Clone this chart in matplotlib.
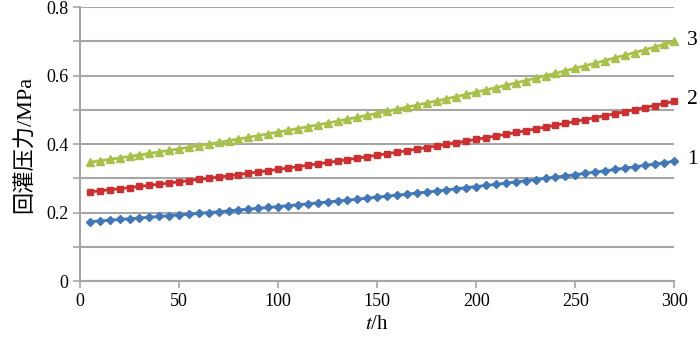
import numpy as np
import matplotlib.pyplot as plt

plt.rcParams['font.family'] = ['Liberation Serif', 'Noto Sans CJK SC']
plt.rcParams['mathtext.fontset'] = 'stix'

# time steps (h)
t = np.arange(5, 301, 5)

# recharge pressure (MPa)
p1 = [0.1735, 0.1756, 0.1777, 0.1798, 0.1820, 0.1841, 0.1863, 0.1886, 0.1908, 0.1931,
      0.1954, 0.1978, 0.2001, 0.2025, 0.2049, 0.2074, 0.2099, 0.2124, 0.2149, 0.2175,
      0.2201, 0.2227, 0.2254, 0.2281, 0.2308, 0.2336, 0.2364, 0.2392, 0.2420, 0.2449,
      0.2479, 0.2508, 0.2538, 0.2569, 0.2599, 0.2630, 0.2662, 0.2694, 0.2726, 0.2759,
      0.2792, 0.2825, 0.2859, 0.2893, 0.2928, 0.2963, 0.2998, 0.3034, 0.3070, 0.3107,
      0.3144, 0.3182, 0.3220, 0.3258, 0.3297, 0.3337, 0.3376, 0.3417, 0.3458, 0.3499]
p2 = [0.2603, 0.2634, 0.2665, 0.2697, 0.2729, 0.2762, 0.2795, 0.2829, 0.2862, 0.2897,
      0.2931, 0.2966, 0.3002, 0.3038, 0.3074, 0.3111, 0.3148, 0.3186, 0.3224, 0.3262,
      0.3301, 0.3341, 0.3381, 0.3421, 0.3462, 0.3503, 0.3545, 0.3588, 0.3631, 0.3674,
      0.3718, 0.3762, 0.3807, 0.3853, 0.3899, 0.3946, 0.3993, 0.4041, 0.4089, 0.4138,
      0.4187, 0.4237, 0.4288, 0.4339, 0.4391, 0.4444, 0.4497, 0.4551, 0.4605, 0.4660,
      0.4716, 0.4772, 0.4829, 0.4887, 0.4946, 0.5005, 0.5065, 0.5125, 0.5186, 0.5248]
p3 = [0.3470, 0.3512, 0.3554, 0.3596, 0.3639, 0.3683, 0.3727, 0.3771, 0.3816, 0.3862,
      0.3908, 0.3955, 0.4002, 0.4050, 0.4099, 0.4148, 0.4197, 0.4247, 0.4298, 0.4350,
      0.4402, 0.4454, 0.4507, 0.4561, 0.4616, 0.4671, 0.4727, 0.4784, 0.4841, 0.4899,
      0.4957, 0.5017, 0.5077, 0.5137, 0.5199, 0.5261, 0.5324, 0.5387, 0.5452, 0.5517,
      0.5583, 0.5650, 0.5717, 0.5786, 0.5855, 0.5925, 0.5996, 0.6068, 0.6140, 0.6214,
      0.6288, 0.6363, 0.6439, 0.6516, 0.6594, 0.6673, 0.6753, 0.6833, 0.6915, 0.6998]
names = ['1', '2', '3']

fig = plt.figure(figsize=(7, 3.39), dpi=100)
ax = fig.add_axes([0.1143, 0.171, 0.849, 0.808])

ax.plot(t, p1, color='#4277b8', lw=2, marker='D', ms=4, clip_on=False)
ax.plot(t, p2, color='#cc3030', lw=2, marker='s', ms=4, clip_on=False)
ax.plot(t, p3, color='#a8c14a', lw=2, marker='^', ms=6, clip_on=False)

for y, s in zip([p1[-1], p2[-1], p3[-1]], names):
    ax.annotate(s, (t[-1], y), xytext=(9, 1), textcoords='offset points',
                fontsize=15.5, va='center', ha='left', annotation_clip=False)

ax.set_xlim(0, 300)
ax.set_ylim(0, 0.8)
ax.set_xticks(np.arange(0, 301, 50))
ax.set_yticks(np.arange(0, 0.81, 0.1))
ax.set_yticklabels(['0' if v == 0 else ('%.1f' % v if i % 2 == 0 else '')
                    for i, v in enumerate(np.arange(0, 0.81, 0.1))])
ax.grid(axis='y', color='#a6a6a6', lw=1.5)
ax.set_axisbelow(True)
for s in ['top', 'right']:
    ax.spines[s].set_visible(False)
for s in ['left', 'bottom']:
    ax.spines[s].set_color('#a6a6a6')
    ax.spines[s].set_linewidth(1.5)
ax.tick_params(colors='#a6a6a6', labelcolor='black', labelsize=13, length=5, width=1.2)

ax.set_xlabel('$t$/h', fontsize=15, labelpad=4)
ax.set_ylabel('回灌压力/MPa', fontsize=16, labelpad=8)

fig.savefig('out.png', dpi=100)
